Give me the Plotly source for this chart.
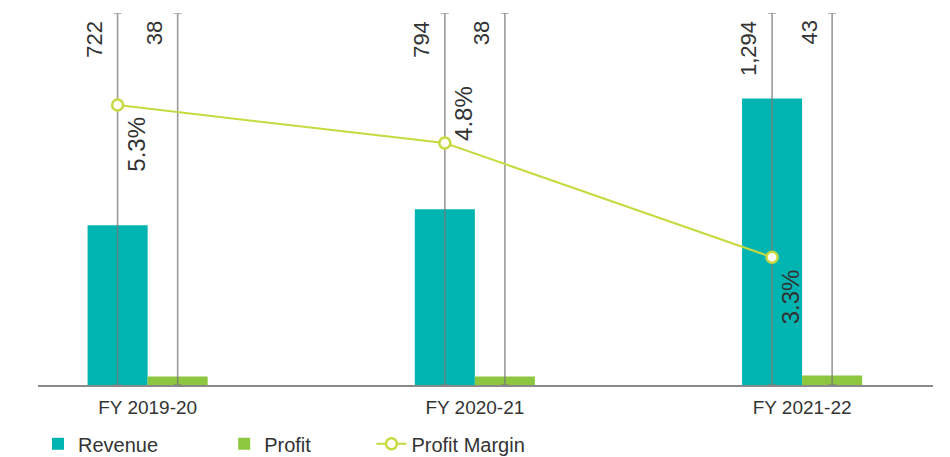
import plotly.graph_objects as go

# Datos
anios = ["FY 2019-20", "FY 2020-21", "FY 2021-22"]
ingresos = [722, 794, 1294]
ganancia = [38, 38, 43]
margen = [5.3, 4.8, 3.3]
etiq_ingresos = ["722", "794", "1,294"]
etiq_ganancia = ["38", "38", "43"]
etiq_margen = ["5.3%", "4.8%", "3.3%"]
pos_margen = ["below", "above", "below"]

# Colores
c_ingresos = "#00B5B1"
c_ganancia = "#8DC63F"
c_margen = "#C6DA3F"
c_guia = "rgba(120,120,120,0.75)"
c_texto = "#333333"
fuente = "Liberation Sans, Arial, sans-serif"

y_top = 1680  # tope de las lineas guia (= tope del eje)
bargap = 0.633
rango_x = [-0.335, 2.40]
# la linea de margen va sobre el centro de la barra de Revenue
desp = (1 - bargap) / 4

fig = go.Figure()

fig.add_trace(go.Bar(
    x=anios, y=ingresos, name="Revenue" + "\u00a0" * 11,
    marker=dict(color=c_ingresos, line=dict(width=0)),
    error_y=dict(type="data", symmetric=False,
                 array=[y_top - v for v in ingresos], arrayminus=ingresos,
                 color=c_guia, thickness=1.6, width=4),
))
fig.add_trace(go.Bar(
    x=anios, y=ganancia, name="Profit" + "\u00a0" * 10,
    marker=dict(color=c_ganancia, line=dict(width=0)),
    error_y=dict(type="data", symmetric=False,
                 array=[y_top - v for v in ganancia], arrayminus=ganancia,
                 color=c_guia, thickness=1.6, width=4),
))
fig.add_trace(go.Scatter(
    x=anios, y=margen, name="Profit Margin", xaxis="x2", yaxis="y2",
    mode="lines+markers",
    line=dict(color=c_margen, width=2),
    marker=dict(symbol="circle", size=11, color="white",
                line=dict(color=c_margen, width=2.5)),
))

# Etiquetas rotadas
anots = []
for x, t1, t2 in zip(anios, etiq_ingresos, etiq_ganancia):
    anots.append(dict(x=x, y=1, xref="x", yref="paper", text=t1, textangle=-90,
                      xanchor="right", yanchor="top", xshift=-39, yshift=-6,
                      showarrow=False, font=dict(size=22, color=c_texto, family=fuente)))
    anots.append(dict(x=x, y=1, xref="x", yref="paper", text=t2, textangle=-90,
                      xanchor="right", yanchor="top", xshift=21, yshift=-6,
                      showarrow=False, font=dict(size=22, color=c_texto, family=fuente)))
for x, v, t, p in zip(anios, margen, etiq_margen, pos_margen):
    anots.append(dict(x=x, y=v, xref="x2", yref="y2", text=t, textangle=-90,
                      xanchor="left", yanchor="top" if p == "below" else "bottom",
                      xshift=3, yshift=-10 if p == "below" else 0,
                      showarrow=False, font=dict(size=24, color=c_texto, family=fuente)))

fig.update_layout(
    width=950, height=457,
    margin=dict(l=38, r=17, t=13, b=72, autoexpand=False),
    paper_bgcolor="white", plot_bgcolor="white",
    barmode="group", bargap=bargap, bargroupgap=0,
    font=dict(family=fuente, color=c_texto),
    xaxis=dict(range=rango_x, showgrid=False, zeroline=False,
               showline=True, linecolor="#8a8a8a", linewidth=1.5,
               ticks="", ticklabelstandoff=4, tickfont=dict(size=19, color=c_texto)),
    xaxis2=dict(range=[r + desp for r in rango_x], overlaying="x", visible=False,
                type="category", categoryarray=anios, categoryorder="array"),
    yaxis=dict(range=[0, y_top], visible=False, showgrid=False, zeroline=False),
    yaxis2=dict(range=[1.62, 6.51], overlaying="y", visible=False,
                showgrid=False, zeroline=False),
    showlegend=True,
    legend=dict(orientation="h", x=0, xanchor="left", y=-0.158, yanchor="middle",
                font=dict(size=20, color=c_texto), traceorder="normal",
                bgcolor="rgba(0,0,0,0)"),
    annotations=anots,
)

# quitar el margen del body para que la figura ocupe la ventana
fig.write_html("out.html", config={"displayModeBar": False},
               post_script="document.body.style.margin='0';")
